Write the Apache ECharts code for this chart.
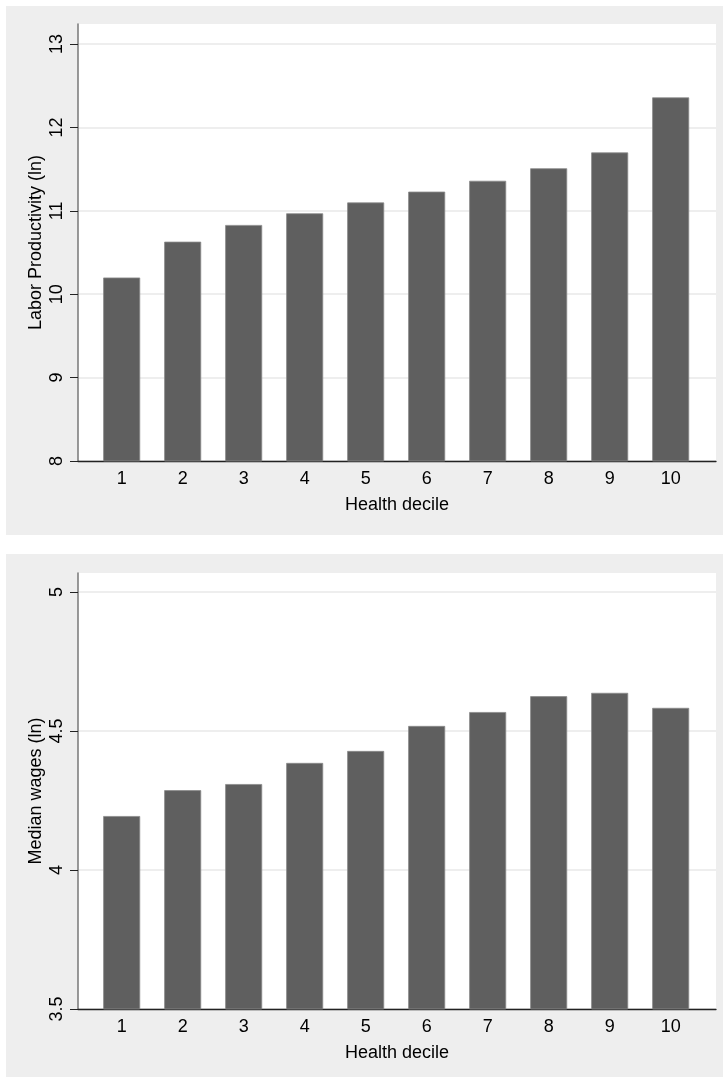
<!DOCTYPE html>
<html><head><meta charset="utf-8">
<script src="https://cdn.jsdelivr.net/npm/echarts@6/dist/echarts.min.js"></script>
<style>html,body{margin:0;padding:0;background:#fff}#c{width:723px;height:1077px}</style>
</head><body><div id="c"></div>
<script>
const deciles = [1,2,3,4,5,6,7,8,9,10];
const productivity = [10.20,10.63,10.83,10.97,11.10,11.23,11.36,11.51,11.70,12.36];
const wages = [4.194,4.287,4.309,4.385,4.428,4.518,4.568,4.625,4.637,4.583];
const prodTicks = [8,9,10,11,12,13];
const wageTicks = [3.5,4,4.5,5];

const font = 'Liberation Sans, Arial, sans-serif';
const chart = echarts.init(document.getElementById('c'));

function xAxis(gi){
  return {gridIndex:gi, type:'value', min:0.284, max:10.743,
    name:'Health decile', nameLocation:'middle', nameGap:35,
    nameTextStyle:{fontFamily:font,fontSize:18,color:'#000'},
    axisLine:{show:true,lineStyle:{color:'#222',width:1.3}},
    axisTick:{show:false},
    splitLine:{show:false},
    axisLabel:{customValues:deciles, fontFamily:font,fontSize:18,color:'#000',margin:9}};
}
function yAxis(gi,min,max,ticks,name){
  return {gridIndex:gi,type:'value',min:min,max:max,
    name:name,nameLocation:'middle',nameGap:33,nameMoveOverlap:false,
    nameTextStyle:{fontFamily:font,fontSize:18,color:'#000'},
    axisLine:{show:true,lineStyle:{color:'#777',width:1.5}},
    axisTick:{show:true,customValues:ticks,length:8,lineStyle:{color:'#222',width:1}},
    splitLine:{show:true,customValues:ticks,lineStyle:{color:'#e9e9e9',width:1.5}},
    axisLabel:{customValues:ticks,rotate:90,fontFamily:font,fontSize:18,color:'#000',margin:12,
      formatter:v=>String(v)}};
}
const barStyle = {color:'#5f5f5f',borderColor:'#8a8a8a',borderWidth:0.8};

chart.setOption({
  animation:false,
  backgroundColor:'#ffffff',
  graphic:[
    {type:'rect',z:-10,shape:{x:6,y:6,width:717,height:529},style:{fill:'#eeeeee'}},
    {type:'rect',z:-10,shape:{x:6,y:554,width:717,height:523},style:{fill:'#eeeeee'}}
  ],
  grid:[
    {left:78,right:7,top:24,height:437,show:true,backgroundColor:'#fff',borderWidth:0},
    {left:78,right:7,top:573,height:436,show:true,backgroundColor:'#fff',borderWidth:0}
  ],
  xAxis:[xAxis(0),xAxis(1)],
  yAxis:[yAxis(0,8,13.24,prodTicks,'Labor Productivity (ln)'),
         yAxis(1,3.5,5.068,wageTicks,'Median wages (ln)')],
  series:[
    {type:'bar',xAxisIndex:0,yAxisIndex:0,barWidth:37,itemStyle:barStyle,
      data:deciles.map((d,i)=>[d,productivity[i]])},
    {type:'bar',xAxisIndex:1,yAxisIndex:1,barWidth:37,itemStyle:barStyle,
      data:deciles.map((d,i)=>[d,wages[i]])}
  ]
});
</script></body></html>
